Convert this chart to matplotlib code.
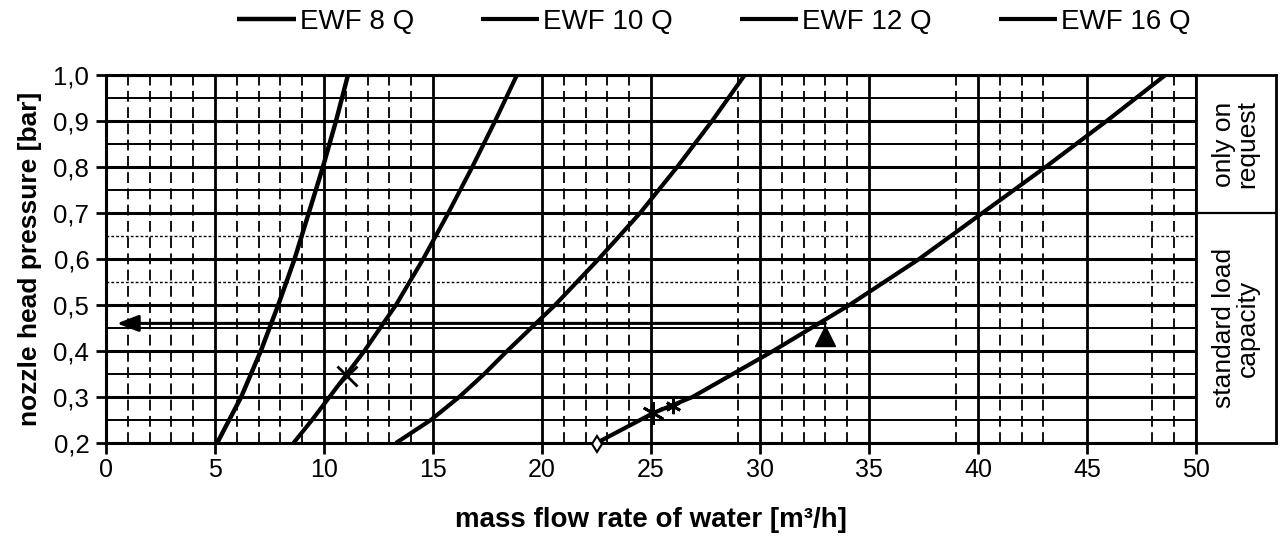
import matplotlib
matplotlib.use("Agg")
import matplotlib.pyplot as plt

plt.rcParams['font.family'] = ['Liberation Sans', 'DejaVu Sans']

# ---- data ----
series_names = ["EWF 8 Q", "EWF 10 Q", "EWF 12 Q", "EWF 16 Q"]

p_8 = [0.2, 0.25, 0.3, 0.35, 0.4, 0.45, 0.5, 0.6, 0.7, 0.8, 0.9, 1.0]
q_8 = [5.1, 5.65, 6.2, 6.65, 7.1, 7.5, 7.9, 8.65, 9.3, 9.95, 10.55, 11.1]

p_10 = [0.2, 0.25, 0.3, 0.35, 0.4, 0.5, 0.6, 0.7, 0.8, 0.9, 1.0]
q_10 = [8.6, 9.45, 10.25, 11.05, 11.85, 13.3, 14.55, 15.7, 16.8, 17.85, 18.85]

p_12 = [0.2, 0.25, 0.3, 0.35, 0.4, 0.5, 0.6, 0.7, 0.8, 0.9, 1.0]
q_12 = [13.3, 14.9, 16.2, 17.35, 18.4, 20.6, 22.6, 24.5, 26.2, 27.8, 29.3]

p_16 = [0.2, 0.265, 0.3, 0.4, 0.5, 0.6, 0.7, 0.8, 0.9, 1.0]
q_16 = [22.5, 25.1, 26.9, 30.6, 34.1, 37.3, 40.2, 43.1, 45.9, 48.6]

# markers
x_marker_10 = [11.05]
y_marker_10 = [0.345]
star_x = [25.1, 26.0]
star_y = [0.265, 0.280]
star_size = [16, 11]
diamond_x = [22.5]
diamond_y = [0.198]
triangle_x = [33.0]
triangle_y = [0.432]

# reading arrow
arrow_y = 0.46
arrow_x_start = 33.0
arrow_x_end = 0.5

x_major = [0, 5, 10, 15, 20, 25, 30, 35, 40, 45, 50]
x_minor = [1, 2, 3, 4, 6, 7, 8, 9, 11, 12, 13, 14, 21, 22, 23, 24, 29,
           31, 32, 33, 34, 39, 41, 42, 43, 48, 49]
y_major = [0.2, 0.3, 0.4, 0.5, 0.6, 0.7, 0.8, 0.9, 1.0]
y_major_labels = ["0,2", "0,3", "0,4", "0,5", "0,6", "0,7", "0,8", "0,9", "1,0"]
y_half_solid = [0.25, 0.35, 0.45, 0.75, 0.85, 0.95]
y_half_dotted = [0.55, 0.65]

zone_split = 0.7
zone_labels = ["only on\nrequest", "standard load\ncapacity"]
zone_centers = [0.85, 0.45]

# ---- figure ----
W, H = 1282, 542
fig = plt.figure(figsize=(W / 100, H / 100), dpi=100)
ax = fig.add_axes([106 / W, 99 / H, 1090 / W, 368 / H])
ax.set_xlim(0, 50)
ax.set_ylim(0.2, 1.0)

# grid
for yv in y_half_solid:
    ax.axhline(yv, color='black', lw=1.4, zorder=1)
for yv in y_half_dotted:
    ax.axhline(yv, color='black', lw=1.0, ls=(0, (2, 1.5)), zorder=1)
for yv in y_major:
    ax.axhline(yv, color='black', lw=2.2, zorder=1)
for xv in x_minor:
    ax.axvline(xv, color='black', lw=1.3, ls=(0, (6, 3)), zorder=1)
for xv in x_major:
    ax.axvline(xv, color='black', lw=2.0, zorder=1)

# curves
lines = []
for q, p, name, lw in [(q_8, p_8, series_names[0], 3.2),
                       (q_10, p_10, series_names[1], 3.0),
                       (q_12, p_12, series_names[2], 3.0),
                       (q_16, p_16, series_names[3], 3.0)]:
    ln, = ax.plot(q, p, color='black', lw=lw, label=name, zorder=3,
                  solid_capstyle='butt', solid_joinstyle='round')
    lines.append(ln)

ax.plot(x_marker_10, y_marker_10, marker='x', ms=14, mew=2, color='black',
        ls='none', zorder=4)
for sx, sy, ss in zip(star_x, star_y, star_size):
    ax.plot([sx], [sy], marker=(6, 2, 0), ms=ss, mew=2, color='black',
            ls='none', zorder=4)
ax.plot(diamond_x, diamond_y, marker='d', ms=8, mfc='white', mec='black',
        mew=1.5, ls='none', zorder=4, clip_on=False)
ax.plot(triangle_x, triangle_y, marker='^', ms=15, color='black',
        ls='none', zorder=4)

ax.annotate('', xy=(arrow_x_end, arrow_y), xytext=(arrow_x_start, arrow_y),
            arrowprops=dict(arrowstyle='-|>,head_length=1.3,head_width=0.5',
                            lw=2.2, color='black', shrinkA=0, shrinkB=0),
            zorder=5)

# ticks
ax.set_xticks(x_major)
ax.set_xticklabels([str(v) for v in x_major])
ax.set_yticks(y_major)
ax.set_yticklabels(y_major_labels)
ax.tick_params(axis='x', direction='out', length=8, width=2, pad=3,
               labelsize=18)
ax.tick_params(axis='y', direction='out', length=7, width=2, pad=5,
               labelsize=18.5)
for s in ax.spines.values():
    s.set_linewidth(2.2)

ax.set_xlabel("mass flow rate of water [m³/h]", fontsize=20,
              fontweight='bold', labelpad=18)
ax.set_ylabel("nozzle head pressure [bar]", fontsize=19,
              fontweight='bold', labelpad=8)

# right side zone box
axr = fig.add_axes([1196 / W, 99 / H, 80 / W, 368 / H])
axr.set_xlim(0, 1)
axr.set_ylim(0.2, 1.0)
axr.set_xticks([])
axr.set_yticks([])
for s in axr.spines.values():
    s.set_linewidth(2.0)
axr.axhline(zone_split, color='black', lw=1.6)
for lab, yc in zip(zone_labels, zone_centers):
    axr.text(0.5, yc, lab, rotation=90, ha='center', va='center',
             fontsize=19, linespacing=0.95)

# legend
fig.legend(handles=lines, loc='upper center', bbox_to_anchor=(0.557, 1.03),
           ncol=4, frameon=False, fontsize=20, handlelength=2.1,
           handletextpad=0.15, columnspacing=2.4)

fig.savefig("out.png", dpi=100)
